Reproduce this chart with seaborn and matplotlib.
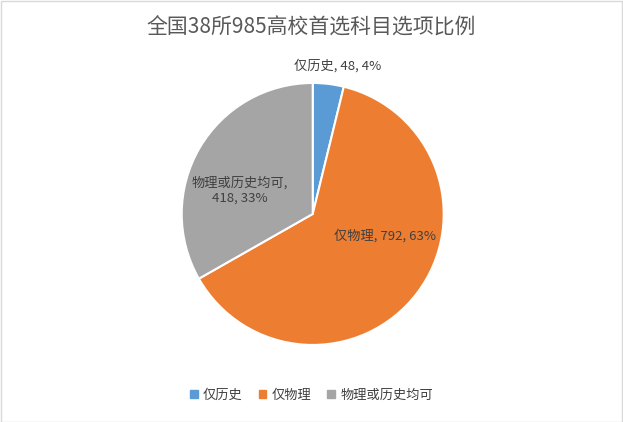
import matplotlib
matplotlib.use('Agg')
import matplotlib.pyplot as plt
import seaborn as sns

categories = ['仅历史', '仅物理', '物理或历史均可']
counts = [48, 792, 418]
label_text = ['仅历史, 48, 4%', '仅物理, 792, 63%', '物理或历史均可,\n418, 33%']
label_pos = [(0.19, 1.13), (0.55, -0.17), (-0.56, 0.18)]

sns.set_theme(style='white')
plt.rcParams['font.family'] = ['Noto Sans CJK SC', 'DejaVu Sans']

colors = ['#5B9BD5', '#ED7D31', '#A5A5A5']

fig = plt.figure(figsize=(6.23, 4.22), dpi=100)
ax = fig.add_axes([0.502 - 0.2103, 0.493 - 0.3105, 0.4205, 0.621])
ax.pie(counts, colors=colors, startangle=90, counterclock=False,
       wedgeprops=dict(edgecolor='white', linewidth=1.5))
ax.set_xlim(-1, 1)
ax.set_ylim(-1, 1)
ax.set_aspect('equal')

for txt, (x, y) in zip(label_text, label_pos):
    ax.text(x, y, txt, ha='center', va='center', fontsize=9.5, color='#404040',
            clip_on=False)

fig.text(0.5, 0.935, '全国38所985高校首选科目选项比例', ha='center', va='center',
         fontsize=15, color='#595959')

handles = [plt.Rectangle((0, 0), 1, 1, color=c) for c in colors]
fig.legend(handles, categories, loc='center', bbox_to_anchor=(0.5, 0.064), ncol=3,
           frameon=False, fontsize=9.5, handlelength=0.6, handleheight=0.6,
           columnspacing=1.2, handletextpad=0.4, labelcolor='#404040')

fig.patches.append(plt.Rectangle((0.001, 0.001), 0.997, 0.997, transform=fig.transFigure,
                                 fill=False, edgecolor='#D9D9D9', linewidth=1))
fig.savefig('out.png', dpi=100)
